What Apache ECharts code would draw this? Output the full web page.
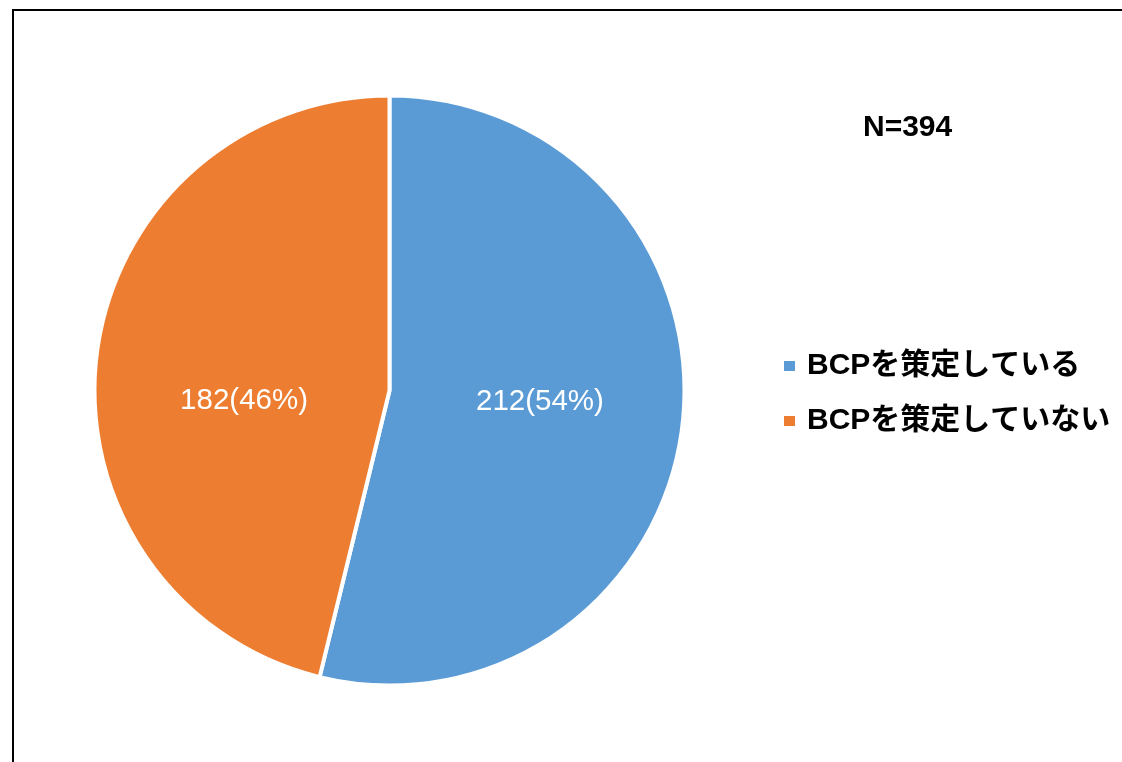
<!DOCTYPE html>
<html>
<head>
<meta charset="utf-8">
<script src="https://cdn.jsdelivr.net/npm/echarts@6/dist/echarts.min.js"></script>
<style>
html,body{margin:0;padding:0;background:#fff;}
#chart{width:1122px;height:762px;}
</style>
</head>
<body>
<div id="chart"></div>
<script>
const categories = ['BCPを策定している', 'BCPを策定していない'];
const values = [212, 182];
const colors = ['#5B9BD5', '#ED7D31'];
const totalLabel = 'N=394';

const chart = echarts.init(document.getElementById('chart'));
chart.setOption({
  animation: false,
  backgroundColor: '#ffffff',
  graphic: [{
    type: 'rect',
    shape: { x: 13, y: 10, width: 1300, height: 900 },
    style: { fill: 'none', stroke: '#000000', lineWidth: 2 },
    silent: true
  }],
  title: {
    text: totalLabel,
    left: 863,
    top: 113,
    padding: 0,
    textStyle: {
      fontFamily: 'Liberation Sans, sans-serif',
      fontWeight: 'bold',
      fontSize: 30,
      color: '#000000'
    }
  },
  legend: {
    orient: 'vertical',
    left: 782,
    top: 351,
    padding: 0,
    itemWidth: 13,
    itemHeight: 12,
    itemGap: 25,
    icon: 'rect',
    data: categories,
    textStyle: {
      fontFamily: 'Liberation Sans, Noto Sans CJK JP, sans-serif',
      fontWeight: 'bold',
      fontSize: 30,
      lineHeight: 30,
      color: '#000000',
      padding: [0, 0, 0, 6]
    }
  },
  series: [{
    type: 'pie',
    center: [389.5, 390.5],
    radius: [0, 295],
    startAngle: 90,
    clockwise: true,
    percentPrecision: 0,
    data: categories.map((c, i) => ({ name: c, value: values[i], itemStyle: { color: colors[i] } })),
    itemStyle: { borderColor: '#ffffff', borderWidth: 4 },
    label: {
      show: true,
      position: 'inside',
      formatter: '{c}({d}%)',
      color: '#ffffff',
      fontFamily: 'Liberation Sans, sans-serif',
      fontSize: 29.5
    },
    labelLayout: function (params) {
      return params.dataIndex === 0 ? { dx: 1, dy: -7 } : { dx: 4, dy: 28 };
    },
    labelLine: { show: false },
    emphasis: { disabled: true }
  }]
});
</script>
</body>
</html>
